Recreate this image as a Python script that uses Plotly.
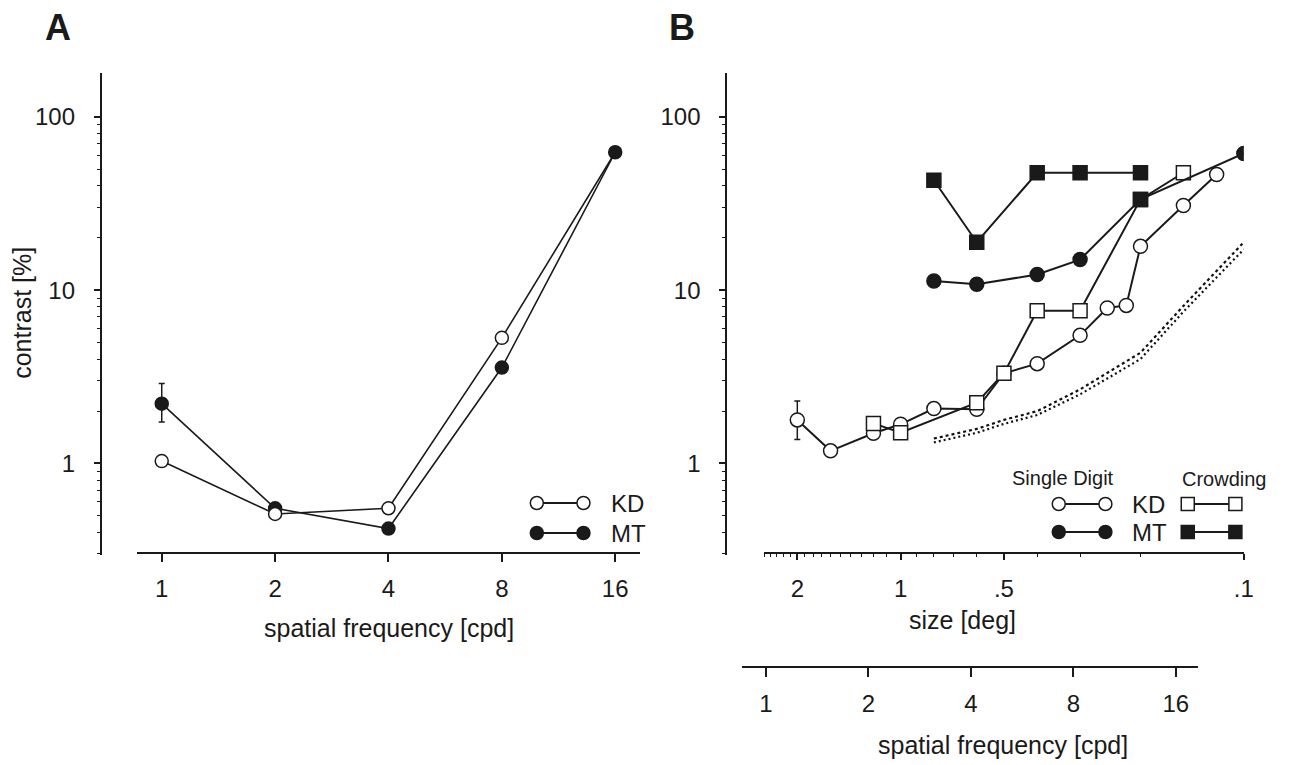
import math
import plotly.graph_objects as go

W, H = 1295, 765
FONT = "Liberation Sans, Arial, Helvetica, sans-serif"
INK = "#1a1a1a"

# ---------------- data ----------------
# Panel A: contrast threshold vs spatial frequency
sf_A = [1, 2, 4, 8, 16]
kd_A = [1.03, 0.51, 0.55, 5.3, 62.5]
mt_A = [2.21, 0.55, 0.42, 3.57, 62.5]
mt_A_err_hi = [2.89, None, None, None, None]
mt_A_err_lo = [1.73, None, None, None, None]

# Panel B: contrast threshold vs digit size
kd_single_size = [2.0, 1.6, 1.2, 1.0, 0.8, 0.6, 0.5, 0.4, 0.3, 0.25, 0.22, 0.2, 0.15, 0.12]
kd_single_val = [1.78, 1.18, 1.49, 1.68, 2.07, 2.05, 3.31, 3.76, 5.48, 7.88, 8.16, 17.9, 30.8, 46.5]
kd_single_err_hi = [2.29] + [None] * 13
kd_single_err_lo = [1.37] + [None] * 13

mt_single_size = [0.8, 0.6, 0.4, 0.3, 0.2, 0.1]
mt_single_val = [11.3, 10.8, 12.3, 15.0, 33.4, 61.5]

kd_crowd_size = [1.2, 1.0, 0.6, 0.5, 0.4, 0.3, 0.2, 0.15]
kd_crowd_val = [1.70, 1.50, 2.24, 3.31, 7.6, 7.6, 33.4, 47.6]

mt_crowd_size = [0.8, 0.6, 0.4, 0.3, 0.2]
mt_crowd_val = [43.1, 18.9, 47.6, 47.6, 47.6]

ideal_size = [0.8, 0.6, 0.5, 0.4, 0.3, 0.25, 0.2, 0.15, 0.1]
ideal_upper = [1.39, 1.58, 1.78, 2.0, 2.67, 3.34, 4.35, 8.1, 18.9]
ideal_lower = [1.32, 1.50, 1.69, 1.9, 2.5, 3.1, 4.0, 7.5, 17.2]

# tick labels
y_ticks = [1, 10, 100]
y_ticklabels = ["1", "10", "100"]
sf_ticks = [1, 2, 4, 8, 16]
sf_ticklabels = ["1", "2", "4", "8", "16"]
size_ticks = [2, 1, 0.5, 0.1]
size_ticklabels = ["2", "1", ".5", ".1"]


def px(x):
    return x / W


def py(y):
    return 1 - y / H


def err(hi, lo, vals):
    plus = [(h - v) if h is not None else 0 for h, v in zip(hi, vals)]
    minus = [(v - l) if l is not None else 0 for l, v in zip(lo, vals)]
    return dict(type="data", symmetric=False, array=plus, arrayminus=minus,
                color=INK, thickness=1.5, width=3)


fig = go.Figure()

# ---------- Panel A ----------
fig.add_trace(go.Scatter(
    x=sf_A, y=mt_A, mode="lines+markers", xaxis="x", yaxis="y",
    line=dict(color=INK, width=1.6),
    marker=dict(symbol="circle", size=13, color=INK, line=dict(color=INK, width=1.5)),
    error_y=err(mt_A_err_hi, mt_A_err_lo, mt_A), showlegend=False))
fig.add_trace(go.Scatter(
    x=sf_A, y=kd_A, mode="lines+markers", xaxis="x", yaxis="y",
    line=dict(color=INK, width=1.6),
    marker=dict(symbol="circle", size=13, color="white",
                opacity=[1, 1, 1, 1, 0], line=dict(color=INK, width=1.5)),
    showlegend=False))

# ---------- Panel B ----------
fig.add_trace(go.Scatter(
    x=ideal_size, y=ideal_upper, mode="lines", xaxis="x2", yaxis="y2",
    line=dict(color="#111", width=2.2, dash="dot"), showlegend=False))
fig.add_trace(go.Scatter(
    x=ideal_size, y=ideal_lower, mode="lines", xaxis="x2", yaxis="y2",
    line=dict(color="#111", width=2.2, dash="2px,3px"), showlegend=False))
fig.add_trace(go.Scatter(
    x=kd_single_size, y=kd_single_val, mode="lines+markers", xaxis="x2", yaxis="y2",
    line=dict(color=INK, width=2),
    marker=dict(symbol="circle", size=14, color="white", line=dict(color=INK, width=1.5)),
    error_y=err(kd_single_err_hi, kd_single_err_lo, kd_single_val), showlegend=False))
fig.add_trace(go.Scatter(
    x=kd_crowd_size, y=kd_crowd_val, mode="lines+markers", xaxis="x2", yaxis="y2",
    line=dict(color=INK, width=2),
    marker=dict(symbol="square", size=14, color="white", line=dict(color=INK, width=1.5)),
    showlegend=False))
fig.add_trace(go.Scatter(
    x=mt_single_size, y=mt_single_val, mode="lines+markers", xaxis="x2", yaxis="y2",
    line=dict(color=INK, width=2),
    marker=dict(symbol=["circle", "circle", "circle", "circle", "square", "circle"],
                size=14, color=INK, line=dict(color=INK, width=1.5)),
    showlegend=False))
fig.add_trace(go.Scatter(
    x=mt_crowd_size, y=mt_crowd_val, mode="lines+markers", xaxis="x2", yaxis="y2",
    line=dict(color=INK, width=2),
    marker=dict(symbol="square", size=14, color=INK, line=dict(color=INK, width=1.5)),
    showlegend=False))
# carrier for the secondary spatial-frequency axis of panel B (draws nothing)
fig.add_trace(go.Scatter(
    x=sf_ticks, y=[None] * len(sf_ticks), mode="markers", xaxis="x3", yaxis="y2",
    showlegend=False, hoverinfo="skip"))

# ---------- axes ----------
y_minor = [v * m for m in (0.1, 1, 10) for v in range(2, 10) if 0.29 < v * m < 180]
size_minor = [round(0.1 * k, 1) for k in range(1, 26)]

tickfont = dict(family=FONT, size=24, color=INK)
ydom = [py(555), py(73)]
yrange = [-(555 - 463.3) / 173.2, (463.3 - 73) / 173.2]

common_axis = dict(showgrid=False, zeroline=False, showline=True, linecolor=INK,
                   linewidth=2, ticks="outside", tickcolor=INK, tickfont=tickfont)

fig.update_layout(
    xaxis=dict(common_axis, type="log", domain=[px(137.6), px(645)],
               range=[math.log10(2 ** (-25.4 / 114.25)), math.log10(2 ** (482 / 114.25))],
               anchor="free", position=py(553), tickmode="array",
               tickvals=sf_ticks, ticktext=sf_ticklabels, ticklen=8, tickwidth=1.5,
               ticklabelstandoff=6),
    yaxis=dict(common_axis, type="log", domain=ydom, range=yrange,
               anchor="free", position=px(101.6), tickmode="array",
               tickvals=y_ticks, ticktext=y_ticklabels, ticklen=6, tickwidth=1.5,
               ticklabelstandoff=14,
               minor=dict(tickmode="array", tickvals=y_minor, ticks="outside",
                          ticklen=3, tickwidth=1, tickcolor=INK)),
    xaxis2=dict(common_axis, type="log", domain=[px(770), px(1253.5)],
                range=[math.log10(2.5), -1], anchor="free", position=py(553),
                tickmode="array", tickvals=size_ticks, ticktext=size_ticklabels,
                ticklen=6, tickwidth=1.5, ticklabelstandoff=8,
                minor=dict(tickmode="array", tickvals=size_minor, ticks="outside",
                           ticklen=3, tickwidth=1, tickcolor=INK)),
    xaxis3=dict(common_axis, type="log", domain=[px(748), px(1207)],
                range=[math.log10(2 ** (-24 / 103.25)), math.log10(2 ** (435 / 103.25))],
                anchor="free", position=py(667), tickmode="array",
                tickvals=sf_ticks, ticktext=sf_ticklabels, ticklen=9, tickwidth=1.5,
                ticklabelstandoff=6),
    yaxis2=dict(common_axis, type="log", domain=ydom, range=yrange,
                anchor="free", position=px(732), tickmode="array",
                tickvals=y_ticks, ticktext=y_ticklabels, ticklen=6, tickwidth=1.5,
                ticklabelstandoff=14,
                minor=dict(tickmode="array", tickvals=y_minor, ticks="outside",
                           ticklen=3, tickwidth=1, tickcolor=INK)),
)

# ---------- text ----------
def note(text, x, y, size, xanchor="center", yanchor="middle", angle=0):
    fig.add_annotation(text=text, x=px(x), y=py(y), xref="paper", yref="paper",
                       showarrow=False, xanchor=xanchor, yanchor=yanchor, textangle=angle,
                       font=dict(family=FONT, size=size, color=INK))

note("<b>A</b>", 58, 28, 36)
note("<b>B</b>", 687, 28, 36)
note("contrast [%]", 22, 313, 25, angle=-90)
note("spatial frequency [cpd]", 392, 628, 25)
note("size [deg]", 970, 620, 25)
note("spatial frequency [cpd]", 1011, 745, 25)
note("KD", 614, 503, 24, xanchor="left")
note("MT", 614, 533, 24, xanchor="left")
note("Single Digit", 1071, 478, 20)
note("Crowding", 1234, 479, 20)
note("KD", 1139, 504, 24, xanchor="left")
note("MT", 1139, 532, 24, xanchor="left")

# ---------- legend glyphs ----------
shapes = []


def seg(x0, x1, y):
    shapes.append(dict(type="line", xref="paper", yref="paper", x0=px(x0), x1=px(x1),
                       y0=py(y), y1=py(y), line=dict(color=INK, width=2)))


def glyph(kind, x, y, filled, r=6.5):
    shapes.append(dict(type=kind, xref="paper", yref="paper", xsizemode="pixel",
                       ysizemode="pixel", xanchor=px(x), yanchor=py(y),
                       x0=-r, x1=r, y0=-r, y1=r, line=dict(color=INK, width=1.5),
                       fillcolor=INK if filled else "white"))


for (xa, xb, y, filled) in [(541, 588, 503, False), (541, 588, 533, True),
                            (1067, 1114, 504, False), (1067, 1114, 532, True)]:
    seg(xa, xb, y)
    glyph("circle", xa, y, filled)
    glyph("circle", xb, y, filled)
for (xa, xb, y, filled) in [(1197, 1245, 504, False), (1197, 1245, 532, True)]:
    seg(xa, xb, y)
    glyph("rect", xa, y, filled)
    glyph("rect", xb, y, filled)

fig.update_layout(
    shapes=shapes,
    width=W, height=H, autosize=False,
    margin=dict(l=0, r=0, t=0, b=0),
    paper_bgcolor="white", plot_bgcolor="rgba(0,0,0,0)",
    font=dict(family=FONT, color=INK),
    showlegend=False,
)

fig.write_html("out.html")
